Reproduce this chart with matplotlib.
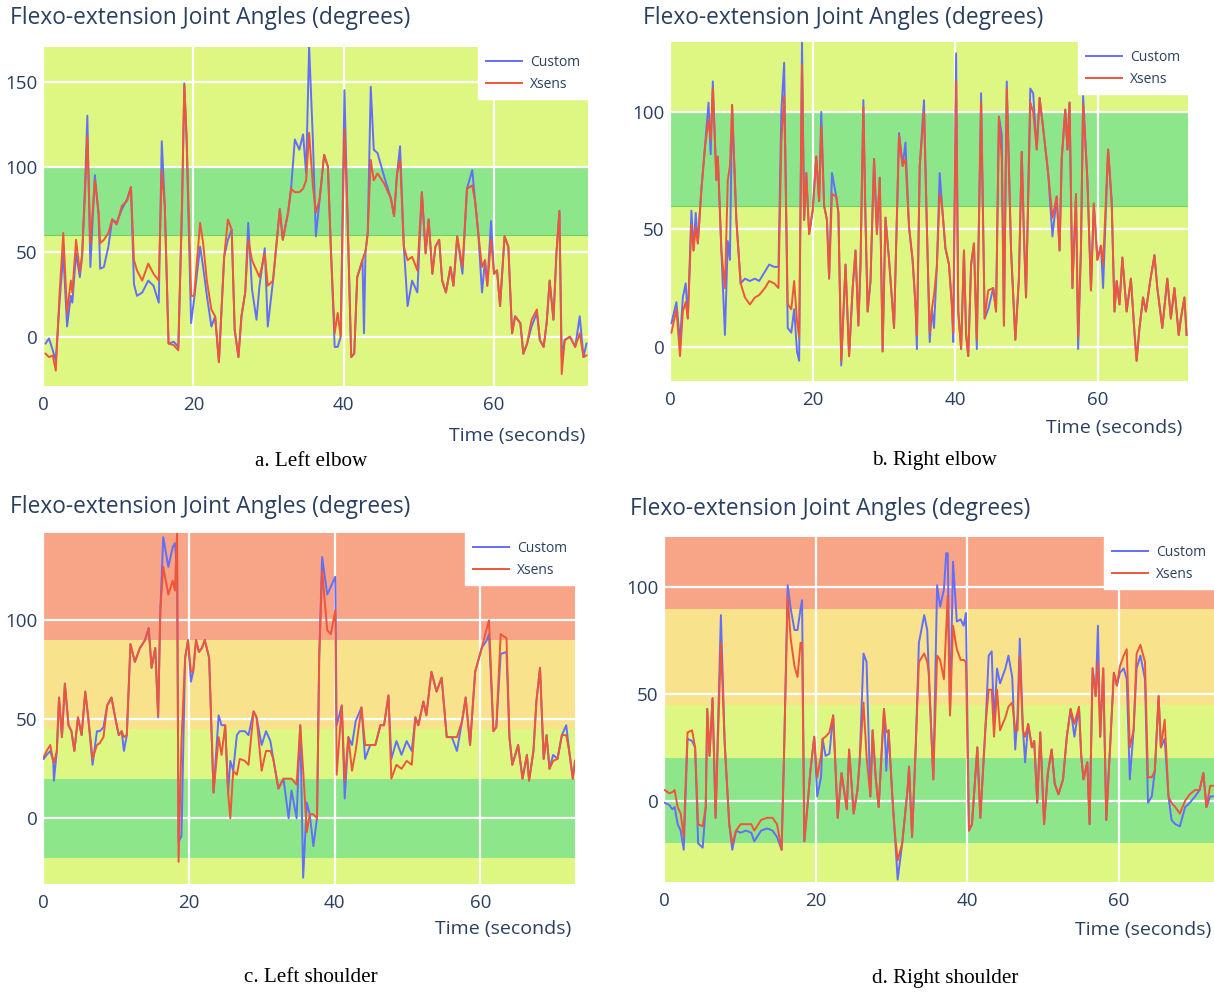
import numpy as np
import matplotlib
matplotlib.use('Agg')
import matplotlib.pyplot as plt

# ---- a. Left elbow ----
t_a = [0.35,0.8,1.3,1.7,2.2,2.7,3.2,3.7,3.9,4.4,
       4.9,5.2,5.6,5.9,6.3,6.9,7.4,7.6,8.1,8.7,
       9.2,9.8,10.5,11.2,11.7,12.1,12.5,13.2,14.0,14.7,
       15.4,15.8,16.2,16.7,17.4,18.0,18.5,18.8,19.1,19.7,
       20.1,20.9,21.3,21.8,22.4,22.9,23.4,24.1,24.6,25.1,
       25.5,26.0,26.4,26.9,27.3,27.8,28.4,28.8,29.5,29.9,
       30.6,31.5,31.9,32.6,33.0,33.5,34.1,34.6,35.0,35.4,
       35.9,36.3,36.8,37.4,37.9,38.3,38.8,39.2,39.6,40.1,
       40.5,41.0,41.4,41.8,42.5,42.7,42.9,43.2,43.6,44.0,
       44.5,45.4,46.3,46.7,47.1,47.5,48.0,48.5,49.1,49.8,
       50.4,50.9,51.3,51.8,52.2,52.7,53.1,53.6,54.2,54.6,
       55.1,55.8,56.4,57.1,57.5,57.9,58.4,58.8,59.1,59.6,
       60.0,60.4,60.8,61.4,61.9,62.4,62.8,63.5,63.9,64.4,
       65.0,65.7,66.1,66.6,67.0,67.4,67.9,68.3,68.7,69.0,
       69.4,70.1,70.8,71.4,71.9,72.3]
custom_a = [-4,-1,-8,-14,20,49,6,24,20,49,
            35,47,90,130,41,95,71,40,41,53,
            69,67,75,81,88,31,24,26,33,30,
            20,115,77,-4,-3,-6,77,149,116,8,
            22,53,41,24,6,12,-15,47,57,63,
            4,-12,12,26,67,28,10,30,52,6,
            33,75,57,73,87,116,110,119,96,171,
            116,59,81,107,100,51,-6,-6,0,145,
            73,-12,-10,35,45,2,50,61,147,110,
            108,94,81,71,96,112,53,18,33,26,
            85,49,69,37,53,57,33,26,41,30,
            59,37,87,98,79,61,26,45,30,68,
            37,39,18,59,53,2,12,8,-10,-4,
            6,14,-2,-6,8,33,10,49,74,-12,
            -2,0,-6,12,-12,-4]
xsens_a = [-10,-12,-11,-20,25,61,14,33,26,57,
           38,48,85,118,55,92,73,55,57,61,
           69,66,77,80,88,45,39,33,43,37,
           33,98,77,-4,-5,-8,80,148,118,24,
           24,67,55,33,16,12,-15,47,69,63,
           4,-12,12,26,57,45,39,35,49,30,
           33,75,57,73,87,85,85,87,92,120,
           89,73,81,107,100,51,2,14,0,122,
           73,-12,-10,35,45,48,50,61,104,92,
           96,90,81,71,96,104,53,45,47,39,
           85,49,69,37,53,57,33,26,41,30,
           59,41,87,89,79,61,41,45,30,57,
           37,39,18,59,53,2,12,8,-10,-4,
           10,16,-2,-6,8,33,10,49,74,-22,
           -2,0,-6,2,-12,-11]

# ---- b. Right elbow ----
t_b = [0.2,0.9,1.4,1.8,2.2,2.5,3.0,3.3,3.6,3.9,
       4.4,4.9,5.4,5.7,6.0,6.5,6.7,7.2,7.7,8.1,
       8.4,8.7,9.3,9.9,10.5,11.2,11.9,12.5,13.3,13.9,
       14.6,15.2,15.6,16.0,16.5,17.0,17.4,17.8,18.1,18.5,
       18.8,19.1,19.5,20.0,20.5,20.9,21.2,21.6,22.0,22.3,
       22.7,23.3,23.6,24.0,24.6,25.1,25.6,26.0,26.4,26.7,
       27.1,27.4,27.7,28.1,28.6,29.0,29.4,29.8,30.2,30.7,
       31.2,31.4,32.1,32.6,33.0,33.5,34.0,34.4,34.6,35.0,
       35.6,36.0,36.4,36.7,37.0,37.4,37.8,38.1,38.6,39.1,
       39.5,39.7,40.1,40.4,40.8,41.2,41.5,41.8,42.2,42.6,
       43.0,43.6,44.1,44.6,45.3,45.7,46.1,46.5,46.8,47.2,
       47.8,48.4,48.9,49.3,49.6,49.9,50.5,50.9,51.4,51.8,
       52.3,53.0,53.6,54.2,54.6,54.9,55.4,55.7,56.0,56.4,
       56.9,57.2,57.6,57.9,58.5,59.0,59.4,59.9,60.4,60.7,
       61.4,61.9,62.3,62.6,63.0,63.4,64.0,64.6,65.1,65.4,
       65.8,66.3,66.7,67.3,67.9,68.3,69.0,69.7,70.2,70.7,
       71.3,71.6,72.1,72.4]
custom_b = [10,19,2,21,27,12,58,41,57,44,
            67,85,104,82,113,71,81,41,5,45,
            37,103,54,27,29,28,29,28,32,35,
            34,34,100,121,8,6,16,-2,-6,130,
            54,74,48,58,81,62,100,60,54,29,
            74,64,57,-8,35,-4,25,41,9,35,
            105,54,15,28,80,48,72,-2,55,37,
            16,8,91,77,87,51,37,18,-1,77,
            105,51,2,16,8,34,74,61,42,35,
            18,2,125,15,-1,41,5,-4,35,44,
            -1,108,12,16,25,15,98,90,9,113,
            41,3,29,83,48,21,110,108,84,106,
            93,74,47,64,41,80,101,84,104,25,
            65,-1,42,107,71,24,61,37,43,25,
            84,62,15,28,18,38,15,29,6,-6,
            8,21,15,28,39,25,8,29,12,25,
            5,12,21,5]
xsens_b = [6,16,-4,15,19,12,52,41,51,44,
           67,85,97,88,110,71,81,41,25,71,
           77,103,54,27,21,18,21,22,25,28,
           27,25,87,107,18,16,28,11,4,120,
           54,74,48,58,81,62,94,60,54,29,
           65,64,57,-6,35,-4,25,41,9,35,
           102,54,15,28,80,48,72,-2,55,37,
           16,8,90,77,80,51,37,18,5,77,
           100,51,6,16,22,34,65,61,42,35,
           18,6,113,15,-1,41,5,-4,35,44,
           3,104,12,24,25,15,98,80,9,110,
           41,3,29,83,48,21,104,100,84,106,
           93,74,55,64,41,80,101,84,104,25,
           65,4,42,103,71,24,61,37,43,35,
           84,62,15,28,18,38,15,29,6,-6,
           8,21,15,28,39,25,8,29,12,25,
           5,12,21,5]

# ---- c. Left shoulder ----
t_c = [0.1,0.5,1.0,1.4,1.5,1.9,2.2,2.6,3.0,3.5,
       3.9,4.3,4.8,5.3,5.8,6.2,6.8,7.4,7.8,8.3,
       8.8,9.4,9.9,10.4,10.8,11.1,11.5,12.0,12.6,13.3,
       14.0,14.5,14.9,15.4,15.8,16.1,16.5,17.2,17.8,18.1,
       18.4,18.6,19.0,19.5,19.9,20.3,20.6,21.0,21.4,21.8,
       22.2,22.8,23.4,24.1,24.5,25.0,25.4,25.7,26.1,26.6,
       27.0,27.7,28.2,28.9,29.3,30.0,30.6,31.2,31.6,32.3,
       33.0,33.7,34.1,34.8,35.3,35.7,36.2,36.6,37.1,37.6,
       37.9,38.3,39.0,39.5,40.1,40.3,41.0,41.4,41.9,42.4,
       42.9,43.7,44.2,44.9,45.6,46.3,46.8,47.4,47.8,48.5,
       49.2,49.9,50.6,51.1,51.5,52.2,52.6,53.3,54.0,54.7,
       55.4,56.1,56.8,57.5,58.0,58.6,59.3,60.2,60.9,61.2,
       61.8,62.2,62.8,63.6,64.0,64.4,65.2,65.8,66.4,66.7,
       67.3,67.7,68.2,68.7,69.1,69.5,70.0,70.6,71.2,71.8,
       72.2,72.7,73.0]
custom_c = [30,32,34,29,19,34,61,41,68,47,
            44,34,51,42,64,51,27,44,44,46,
            57,61,51,42,44,34,42,88,79,86,
            90,96,76,86,51,105,142,127,137,139,
            125,-12,-9,81,90,69,74,90,84,86,
            90,81,13,52,47,47,13,29,24,42,
            44,44,42,54,51,37,44,39,30,15,
            20,0,14,0,47,-30,8,2,-14,0,
            81,132,113,117,122,47,57,10,41,37,
            49,56,30,37,37,47,47,62,30,39,
            32,39,34,51,47,59,52,74,64,71,
            41,41,34,49,61,37,74,86,90,93,
            44,46,83,84,41,27,37,20,32,19,
            34,59,76,30,42,25,32,30,42,47,
            34,20,29]
xsens_c = [31,34,37,29,28,34,61,41,68,47,
           44,34,51,42,64,51,30,37,38,41,
           57,61,51,42,44,41,42,88,79,86,
           90,96,76,86,52,105,127,113,120,115,
           145,-22,39,81,90,74,74,90,84,86,
           90,81,13,41,32,47,13,0,24,22,
           30,29,27,54,51,24,34,34,30,15,
           20,20,20,17,47,24,-7,2,2,0,
           81,125,95,93,105,22,57,19,41,24,
           34,56,37,37,37,47,47,62,20,27,
           25,29,27,51,47,59,52,74,64,71,
           41,41,41,49,61,37,74,86,96,100,
           44,46,93,91,41,27,37,20,32,19,
           34,59,76,30,42,25,29,30,42,42,
           34,20,29]

# ---- d. Right shoulder ----
t_d = [0.1,0.7,1.1,1.4,1.8,2.2,2.6,3.1,3.7,4.1,
       4.5,5.1,5.5,5.7,6.0,6.4,6.8,7.5,8.0,8.6,
       9.0,9.5,10.1,10.8,11.5,11.9,12.8,13.6,14.3,14.9,
       15.5,15.8,16.3,16.7,17.2,17.6,18.0,18.2,18.5,18.9,
       19.3,19.8,20.2,20.7,20.9,21.3,21.8,22.3,22.9,23.4,
       24.1,24.4,25.0,25.5,25.8,26.3,26.7,27.2,27.5,27.9,
       28.3,29.0,29.3,29.6,30.1,30.4,30.8,31.4,32.1,32.3,
       32.7,33.2,33.6,34.3,34.7,34.9,35.5,36.0,36.4,36.9,
       37.2,37.4,37.7,38.1,38.6,39.1,39.5,39.8,40.2,40.6,
       41.3,41.7,42.4,42.8,43.2,43.5,43.9,44.3,45.0,45.4,
       45.9,46.3,46.6,46.9,47.3,47.6,48.0,48.5,48.8,49.2,
       49.6,50.1,50.6,51.1,51.5,52.0,52.6,53.1,53.6,54.1,
       54.7,55.0,55.3,55.8,56.1,56.5,56.9,57.2,57.5,57.9,
       58.3,58.8,59.3,59.7,60.1,60.6,61.0,61.4,61.9,62.3,
       62.8,63.4,63.8,64.3,64.7,65.2,65.5,66.0,66.5,66.9,
       67.4,68.0,68.7,69.3,70.0,70.6,71.1,71.5,72.0,72.4]
custom_d = [-1,-2,-4,-3,-11,-14,-23,29,28,25,
            -20,-22,-3,43,21,48,-8,87,27,-11,
            -23,-14,-15,-14,-15,-19,-14,-13,-14,-17,
            -23,18,101,90,80,80,90,94,-19,-3,
            14,30,2,11,29,21,22,40,-8,13,
            -4,24,-6,5,19,69,65,2,33,11,
            -3,43,14,33,2,-14,-37,-20,5,16,
            -17,27,74,87,80,60,10,101,91,99,
            116,116,40,112,84,85,82,88,-14,-11,
            25,-8,36,68,70,36,62,55,62,68,
            58,24,40,76,35,18,36,25,28,-1,
            32,-11,13,24,8,3,10,30,43,30,
            44,21,10,18,-11,62,49,82,30,62,
            -9,25,60,54,60,62,57,10,33,62,
            68,57,-1,2,14,49,25,29,2,-9,
            -11,-12,-3,-1,2,5,13,-3,2,2]
xsens_d = [5,3.5,4,5,-3,-6,-17,32,33,25,
           -11,-12,-3,43,21,48,-8,74,27,-11,
           -20,-14,-11,-11,-11,-14,-9,-8,-8,-11,
           -23,18,96,76,63,58,74,74,-19,-3,
           14,30,11,21,29,30,32,40,-8,13,
           -4,24,-6,5,19,46,21,2,33,11,
           -3,43,32,33,2,-14,-28,-20,5,16,
           -17,27,65,69,65,60,10,68,66,57,
           80,96,40,82,71,66,66,65,-14,-11,
           25,-8,36,52,52,30,52,33,39,44,
           46,33,33,68,33,30,36,25,28,-1,
           32,-11,13,24,8,3,10,30,43,36,
           44,21,10,18,-11,62,49,65,30,62,
           -9,25,60,54,63,68,71,25,33,69,
           73,65,11,11,14,49,25,38,2,-1,
           -3,-6,0,3,5,5,13,-3,7,7]

TITLE = 'Flexo-extension Joint Angles (degrees)'
captions = ['a. Left elbow', 'b. Right elbow', 'c. Left shoulder', 'd. Right shoulder']

LIGHT = '#DEF783'
GREEN = '#8DE68A'
SALMON = '#F8A487'
YELLOW = '#F8E38C'
BLUE = '#636EFA'
RED = '#EF553B'
INK = '#2a3f5f'

W, H = 1214, 992
fig = plt.figure(figsize=(W / 100, H / 100), dpi=100)
fig.patch.set_facecolor('white')
plt.rcParams['font.family'] = ['Open Sans', 'DejaVu Sans']


def px_axes(x0, y0, x1, y1):
    return fig.add_axes([x0 / W, 1 - y1 / H, (x1 - x0) / W, (y1 - y0) / H])


def draw(ax, t, cu, xs, xlim, ylim, yticks, bands, edge=None):
    ax.set_facecolor(LIGHT)
    for lo, hi, col in bands:
        ax.axhspan(lo, hi, color=col, lw=0, zorder=0)
    if edge is not None:
        ax.axhline(edge, color='#74CF62', lw=0.8, zorder=0.5)
    for yv in yticks:
        ax.axhline(yv, color='white', lw=1.6, zorder=1)
    for xv in [0, 20, 40, 60]:
        ax.axvline(xv, color='white', lw=1.6, zorder=1)
    ax.plot(t, cu, color=BLUE, lw=1.4, label='Custom', zorder=3)
    ax.plot(t, xs, color=RED, lw=1.4, label='Xsens', zorder=4)
    ax.set_xlim(*xlim)
    ax.set_ylim(*ylim)
    ax.set_xticks([0, 20, 40, 60])
    ax.set_yticks(yticks)
    ax.tick_params(length=0, labelsize=13.5, labelcolor=INK, pad=4)
    ax.tick_params(axis='x', pad=7)
    for s in ax.spines.values():
        s.set_visible(False)
    leg = ax.legend(loc='upper right', borderaxespad=0, frameon=True, fancybox=False,
                    framealpha=1, edgecolor='white', fontsize=10, handlelength=2.6,
                    labelspacing=0.5, borderpad=0.55, handletextpad=0.6)
    for txt in leg.get_texts():
        txt.set_color(INK)
    leg.set_zorder(10)


ax_a = px_axes(43, 47, 588, 386)
draw(ax_a, t_a, custom_a, xsens_a, (0, 72.5), (-29, 170.4), [0, 50, 100, 150],
     [(60, 100, GREEN)], edge=60)

ax_b = px_axes(670, 42, 1188, 381)
draw(ax_b, t_b, custom_b, xsens_b, (0, 72.6), (-14.6, 129.8), [0, 50, 100],
     [(60, 100, GREEN)], edge=60)

shoulder_bands = [(90, 200, SALMON), (45, 90, YELLOW), (-20, 20, GREEN)]
ax_c = px_axes(43, 533, 575, 884)
draw(ax_c, t_c, custom_c, xsens_c, (0, 73.0), (-33.2, 144.1), [0, 50, 100], shoulder_bands)

ax_d = px_axes(664, 537, 1214, 882)
draw(ax_d, t_d, custom_d, xsens_d, (0, 72.5), (-38.1, 123.6), [0, 50, 100], shoulder_bands)

for x, y in [(10, 18), (643, 18), (10, 507), (630, 509)]:
    fig.text(x / W, 1 - y / H, TITLE, ha='left', va='center', fontsize=16.4, color=INK)

for x, y in [(585, 436), (1182, 428), (571, 929), (1211, 930)]:
    fig.text(x / W, 1 - y / H, 'Time (seconds)', ha='right', va='center', fontsize=14, color=INK)

for (x, y), cap in zip([(311, 461), (934, 461), (311, 978), (945, 978)], captions):
    fig.text(x / W, 1 - y / H, cap, ha='center', va='center', fontsize=15.2,
             family=['Liberation Serif', 'DejaVu Serif'], color='black')

fig.savefig('out.png', dpi=100, facecolor='white')
